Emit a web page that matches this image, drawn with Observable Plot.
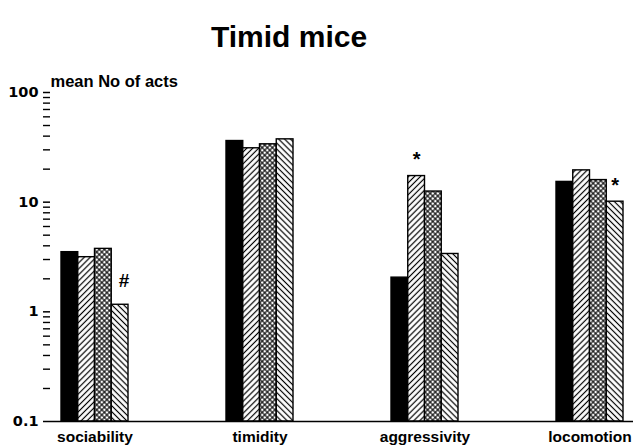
<!DOCTYPE html>
<html>
<head>
<meta charset="utf-8">
<script src="https://cdn.jsdelivr.net/npm/d3@7"></script>
<script src="https://cdn.jsdelivr.net/npm/@observablehq/plot@0.6"></script>
<style>
  html, body { margin: 0; padding: 0; background: #fff; }
  #chart { width: 633px; height: 446px; }
</style>
</head>
<body>
<div id="chart"></div>
<script>
// ---- data ----
const groups = ["sociability", "timidity", "aggressivity", "locomotion"];
const seriesNames = ["group 1", "group 2", "group 3", "group 4"];
const series1 = [3.5, 36.1, 2.05, 15.3];   // solid black
const series2 = [3.15, 31.0, 17.3, 19.5];  // "/" hatch
const series3 = [3.75, 33.7, 12.5, 15.9];  // cross hatch
const series4 = [1.16, 37.4, 3.37, 10.1];  // "\" hatch
const majorTicks = [0.1, 1, 10, 100];
const majorTickLabels = ["0.1", "1", "10", "100"];
const minorTicks = [0.2,0.3,0.4,0.5,0.6,0.7,0.8,0.9, 2,3,4,5,6,7,8,9, 20,30,40,50,60,70,80,90];
const annotations = [
  {group: "sociability", series: 3, label: "#"},
  {group: "aggressivity", series: 1, label: "*"},
  {group: "locomotion", series: 3, label: "*"}
];
const titleText = "Timid mice";
const yLabelText = "mean No of acts";

// ---- build ----
const seriesValues = [series1, series2, series3, series4];
const rows = groups.flatMap((g, gi) => seriesValues.map((vals, si) => ({group: g, series: si, name: seriesNames[si], value: vals[gi]})));
const fills = ["black", "url(#hatchR)", "url(#hatchX)", "url(#hatchL)"];
const sub = 67 / 4;
const font = "'Liberation Sans', Arial, Helvetica, sans-serif";
const valueOf = d => seriesValues[d.series][groups.indexOf(d.group)];

const marks = [];
seriesValues.forEach((vals, si) => {
  marks.push(Plot.barY(rows.filter(d => d.series === si), {
    x: "group", y1: 0.1, y2: "value",
    fill: fills[si], stroke: "black", strokeWidth: 1.4,
    insetLeft: si * sub, insetRight: (3 - si) * sub
  }));
});
marks.push(Plot.ruleY([0.1], {stroke: "black", strokeWidth: 1.6}));
marks.push(Plot.axisY({ticks: majorTicks, tickFormat: d => majorTickLabels[majorTicks.indexOf(d)], tickSize: 7, tickPadding: 5, fontSize: 14.5, fontWeight: "bold", fontFamily: "'DejaVu Sans', sans-serif", label: null, line: true, strokeWidth: 1.5, strokeOpacity: 1}));
marks.push(Plot.axisY({ticks: minorTicks, tickFormat: () => "", tickSize: 7, label: null, strokeWidth: 1.4, strokeOpacity: 1}));
marks.push(Plot.axisX({tickSize: 0, tickPadding: 9, fontSize: 15.5, fontWeight: "bold", label: null}));
annotations.forEach(a => {
  marks.push(Plot.text([a], {
    x: "group", y: valueOf, text: "label",
    dx: (a.series - 1.5) * sub + (a.label === "#" ? 4 : 0),
    dy: a.label === "#" ? -24 : -16,
    fontSize: a.label === "#" ? 19 : 20, fontWeight: "bold"
  }));
});
marks.push(Plot.text([titleText], {frameAnchor: "top", text: d => d, dx: -53, dy: -67, fontSize: 30, fontWeight: "bold"}));
marks.push(Plot.text([yLabelText], {frameAnchor: "top-left", text: d => d, textAnchor: "start", dy: -17, fontSize: 16.5, fontWeight: "bold"}));

const svg = Plot.plot({
  width: 633,
  height: 446,
  marginLeft: 50,
  marginRight: 0,
  marginTop: 92,
  marginBottom: 25,
  style: {fontFamily: font, background: "white", color: "black"},
  x: {domain: groups, paddingInner: 0.5956, paddingOuter: 0.0573, align: 0.5},
  y: {type: "log", domain: [0.1, 100]},
  marks
});

const defs = d3.select(svg).insert("defs", ":first-child");
function hatch(id, angle, spacing, cross, sw) {
  const p = defs.append("pattern").attr("id", id).attr("patternUnits", "userSpaceOnUse")
    .attr("width", spacing).attr("height", spacing).attr("patternTransform", `rotate(${angle})`);
  p.append("rect").attr("width", spacing).attr("height", spacing).attr("fill", "white");
  p.append("line").attr("x1", spacing / 2).attr("x2", spacing / 2).attr("y1", 0).attr("y2", spacing)
    .attr("stroke", "black").attr("stroke-width", sw);
  if (cross) p.append("line").attr("y1", spacing / 2).attr("y2", spacing / 2).attr("x1", 0).attr("x2", spacing)
    .attr("stroke", "black").attr("stroke-width", sw);
}
hatch("hatchR", 45, 4.2, false, 1.2);
hatch("hatchL", -45, 4.2, false, 1.2);
hatch("hatchX", 45, 3.6, true, 1.1);

document.getElementById("chart").appendChild(svg);
</script>
</body>
</html>
